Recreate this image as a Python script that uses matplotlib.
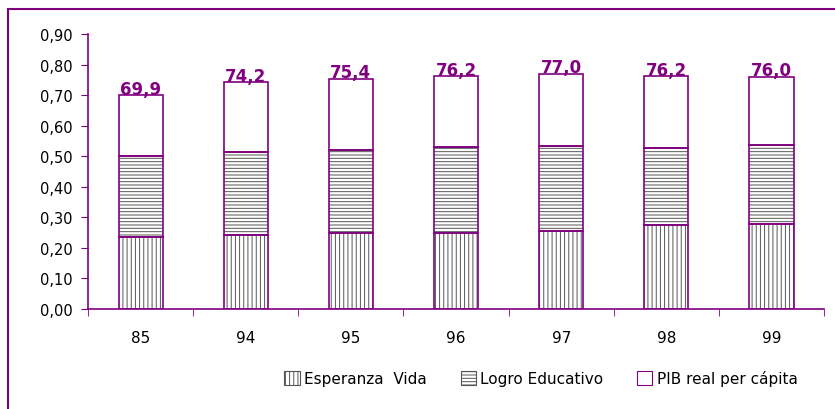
import matplotlib
matplotlib.use("Agg")
import matplotlib.pyplot as plt
import matplotlib.patches as mpatches
import numpy as np

# data
years = ["85", "94", "95", "96", "97", "98", "99"]
esperanza = [0.235, 0.242, 0.250, 0.250, 0.255, 0.275, 0.278]
logro = [0.265, 0.273, 0.272, 0.280, 0.280, 0.253, 0.259]
pib = [0.199, 0.227, 0.232, 0.232, 0.235, 0.234, 0.223]
idh_labels = ["69,9", "74,2", "75,4", "76,2", "77,0", "76,2", "76,0"]
series_names = ["Esperanza  Vida", "Logro Educativo", "PIB real per cápita"]

purple = "#800080"
plt.rcParams["hatch.linewidth"] = 0.7

fig = plt.figure(figsize=(8.35, 4.10), dpi=100)
ax = fig.add_axes([0.1054, 0.2439, 0.8816, 0.6707])

x = np.arange(len(years))
width = 0.42
esp = np.array(esperanza)
log = np.array(logro)
pb = np.array(pib)

# hatched fills first (hatch colour follows edge colour), purple outlines on top
ax.bar(x, esp, width, color="white", edgecolor="#555555", hatch="||||", linewidth=0)
ax.bar(x, log, width, bottom=esp, color="white", edgecolor="#555555", hatch="-----", linewidth=0)
ax.bar(x, pb, width, bottom=esp + log, color="white", linewidth=0)
for vals, bottom in [(esp, 0), (log, esp), (pb, esp + log)]:
    ax.bar(x, vals, width, bottom=bottom, fill=False, edgecolor=purple, linewidth=1.2)

tops = esp + log + pb
for xi, top, lab in zip(x, tops, idh_labels):
    ax.text(xi, top - 0.008, lab, ha="center", va="bottom", color=purple,
            fontsize=12, fontweight="bold")

ax.set_xlim(-0.5, len(years) - 0.5)
ax.set_ylim(0, 0.9)
ax.set_yticks(np.arange(0, 0.91, 0.1))
ax.set_yticklabels([f"{v:.2f}".replace(".", ",") for v in np.arange(0, 0.91, 0.1)], fontsize=10.5)
ax.set_xticks(x)
ax.set_xticklabels(years, fontsize=11)
ax.set_xticks(np.arange(-0.5, len(years), 1.0), minor=True)
ax.tick_params(axis="x", which="major", length=0, pad=15)
ax.tick_params(axis="x", which="minor", length=5, color=purple, direction="out")
ax.tick_params(axis="y", length=5, color=purple, direction="out", pad=6)

for side in ["top", "right"]:
    ax.spines[side].set_visible(False)
for side in ["left", "bottom"]:
    ax.spines[side].set_color(purple)
    ax.spines[side].set_linewidth(1.2)

handles = [
    mpatches.Patch(facecolor="white", edgecolor="#555555", hatch="||||", linewidth=0.8),
    mpatches.Patch(facecolor="white", edgecolor="#555555", hatch="-----", linewidth=0.8),
    mpatches.Patch(facecolor="white", edgecolor=purple, linewidth=0.8),
]
fig.legend(handles, series_names, loc="center", bbox_to_anchor=(0.648, 0.075),
           ncol=3, frameon=False, fontsize=11, handlelength=1.0, handleheight=1.0,
           handletextpad=0.3, columnspacing=2.2)

# outer chart border (open to the right and bottom like the reference crop)
border = mpatches.Rectangle((8 / 835, -0.1), 1.2, 1.1 - 10 / 410, transform=fig.transFigure,
                            fill=False, edgecolor=purple, linewidth=1.5)
fig.patches.append(border)

fig.savefig("out.png", dpi=100)
